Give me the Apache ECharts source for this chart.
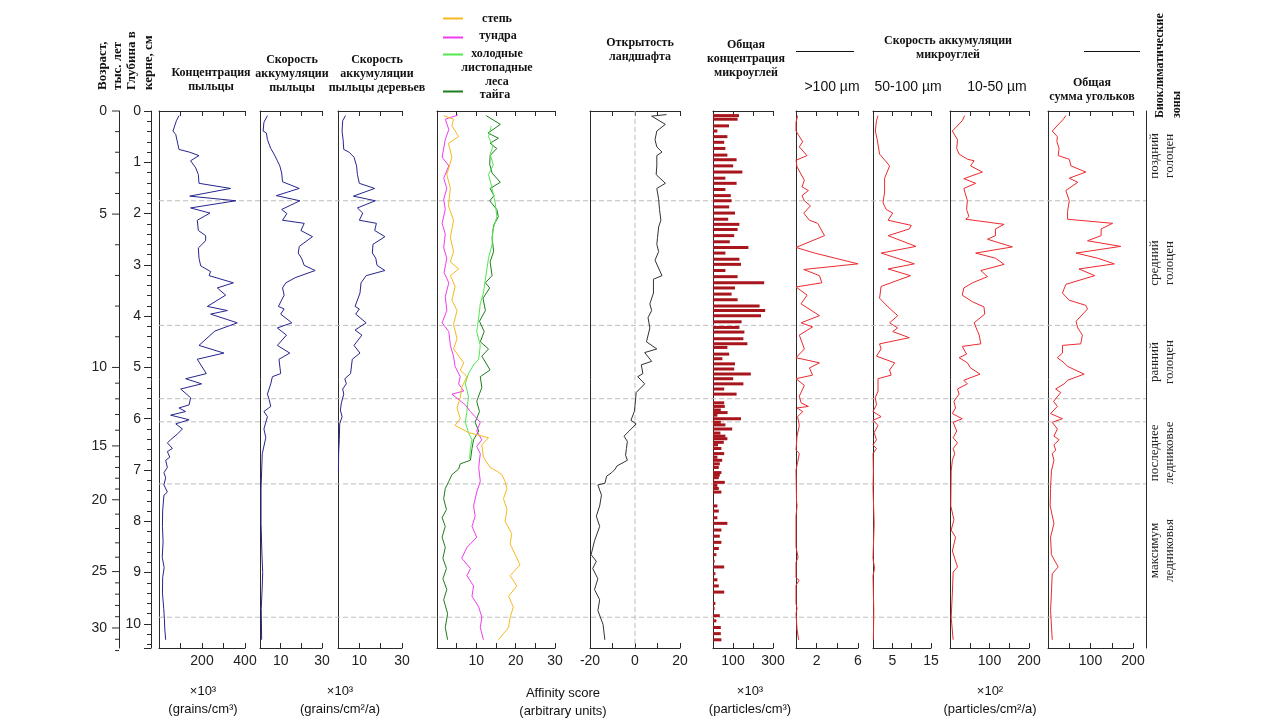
<!DOCTYPE html>
<html><head><meta charset="utf-8">
<script src="https://cdn.jsdelivr.net/npm/echarts@6/dist/echarts.min.js"></script>
<style>html,body{margin:0;padding:0;background:#fff}#c{width:1280px;height:720px}</style>
</head><body><div id="c"></div>
<script>
// ---------------- DATA (pairs: [depth, value]) ----------------
const pollenConc = [[0.09,93],[0.19,81],[0.39,65],[0.46,78],[0.75,93],[0.80,140],[0.87,186],[0.97,147],[1.11,171],[1.24,183],[1.41,186],[1.51,333],[1.66,143],[1.75,357],[1.89,147],[1.99,237],[2.13,178],[2.33,183],[2.43,217],[2.53,217],[2.67,183],[2.87,186],[3.02,194],[3.13,240],[3.21,233],[3.35,346],[3.45,271],[3.59,310],[3.81,225],[3.89,318],[3.96,240],[4.13,364],[4.29,260],[4.57,186],[4.72,302],[4.84,178],[5.12,220],[5.22,124],[5.32,198],[5.42,101],[5.59,147],[5.73,140],[5.79,93],[5.86,124],[5.93,54],[6.02,140],[6.10,78],[6.20,109],[6.30,85],[6.41,54],[6.47,39],[6.58,62],[6.64,39],[6.75,50],[6.81,31],[6.95,39],[7.05,23],[7.15,31],[7.29,23],[7.43,39],[7.49,23],[7.8,17],[8.1,16],[8.4,19],[8.7,15],[8.9,24],[9.1,17],[9.4,16],[9.7,22],[9.9,25],[10.1,27],[10.31,31]];
const pollenAcc = [[0.09,3.6],[0.22,1.9],[0.39,1.5],[0.43,3.1],[0.56,3.6],[0.73,5.2],[0.84,6.8],[0.97,8.4],[1.07,9.6],[1.21,10.5],[1.38,10.9],[1.51,19.0],[1.65,7.9],[1.75,19.3],[1.92,10.5],[2.00,13.0],[2.13,10.9],[2.19,21.4],[2.33,19.8],[2.45,25.4],[2.64,19.0],[2.77,18.5],[2.87,20.1],[3.01,21.4],[3.11,26.7],[3.25,17.0],[3.35,12.5],[3.45,10.9],[3.59,11.7],[3.81,8.9],[3.86,11.7],[3.96,10.0],[4.13,15.4],[4.23,8.4],[4.37,12.8],[4.57,8.4],[4.72,14.4],[4.84,9.2],[5.12,10.0],[5.18,6.0],[5.32,5.2],[5.42,4.4],[5.52,3.6],[5.62,4.4],[5.76,5.2],[5.86,1.9],[5.96,3.6],[6.07,2.8],[6.20,1.9],[6.37,2.8],[6.68,1.1],[7.02,0.8],[7.36,0.5],[8.04,0.5],[8.6,0.9],[9.0,1.3],[9.26,1.1],[9.7,0.6],[10.31,0.8]];
const treePollenAcc = [[0.09,3.5],[0.19,2.2],[0.39,1.9],[0.56,2.4],[0.75,2.7],[0.80,5.1],[0.90,7.5],[1.07,8.7],[1.24,9.1],[1.41,10.0],[1.51,17.2],[1.66,7.2],[1.75,17.5],[1.89,9.1],[1.99,11.6],[2.13,10.0],[2.19,18.0],[2.33,17.2],[2.45,22.0],[2.60,16.4],[2.77,16.1],[2.87,17.7],[3.01,18.3],[3.11,22.0],[3.21,13.2],[3.35,10.8],[3.55,10.3],[3.81,8.0],[3.86,10.0],[3.96,8.3],[4.13,13.2],[4.27,8.0],[4.37,11.2],[4.57,7.5],[4.72,10.3],[4.84,6.7],[5.12,5.9],[5.22,3.2],[5.32,3.9],[5.42,2.2],[5.52,2.7],[5.69,1.6],[5.83,1.1],[5.96,1.9],[6.10,0.8],[6.41,0.6],[6.68,0.3],[7.02,0.2]];
const steppe = [[0.09,1.7],[0.16,4.2],[0.29,3.8],[0.50,5.5],[0.63,2.9],[0.90,3.8],[1.24,2.5],[1.51,3.4],[1.85,2.9],[2.13,4.2],[2.47,3.4],[2.74,4.2],[2.94,3.4],[3.08,5.5],[3.21,3.4],[3.42,4.6],[3.69,3.8],[3.89,5.1],[4.16,4.2],[4.44,5.1],[4.64,4.2],[4.91,6.8],[5.05,5.9],[5.18,7.6],[5.39,6.3],[5.59,5.9],[5.79,5.1],[6.00,5.9],[6.13,4.6],[6.27,8.0],[6.37,13.1],[6.51,11.4],[6.75,11.8],[6.95,13.5],[7.02,15.2],[7.09,16.5],[7.22,17.3],[7.36,17.8],[7.56,16.9],[7.77,17.8],[8.00,17.3],[8.24,19.0],[8.44,18.6],[8.65,19.9],[8.85,21.1],[9.06,18.6],[9.26,20.3],[9.46,18.2],[9.67,19.4],[9.87,18.6],[10.07,18.2],[10.31,15.6]];
const tundra = [[0.08,5.3],[0.16,2.1],[0.36,3.0],[0.56,2.1],[0.90,1.3],[1.07,3.0],[1.31,1.7],[1.51,2.5],[1.72,1.7],[1.92,2.1],[2.19,1.3],[2.40,2.1],[2.67,1.7],[2.87,2.5],[3.15,1.8],[3.35,3.0],[3.62,2.1],[3.89,2.5],[4.13,1.3],[4.30,3.0],[4.57,3.4],[4.78,4.2],[4.98,4.6],[5.18,5.9],[5.32,5.5],[5.46,6.8],[5.52,3.8],[5.73,7.2],[5.86,8.5],[5.96,9.7],[6.07,11.0],[6.24,10.1],[6.41,11.4],[6.54,10.1],[6.68,11.0],[6.95,10.6],[7.22,11.0],[7.43,10.1],[7.70,9.3],[7.90,9.7],[8.10,8.9],[8.31,10.1],[8.51,7.6],[8.72,6.3],[8.92,8.5],[9.06,7.6],[9.26,9.3],[9.46,8.9],[9.67,10.6],[9.87,11.4],[10.07,11.0],[10.31,11.8]];
const coldDeciduous = [[0.30,13.8],[0.50,13.1],[0.70,14.2],[0.84,13.5],[1.05,14.3],[1.24,13.1],[1.51,14.0],[1.79,14.8],[2.06,15.2],[2.33,14.2],[2.60,14.0],[2.87,13.1],[3.28,12.3],[3.55,11.8],[3.76,11.0],[4.03,10.6],[4.30,10.1],[4.57,11.0],[4.84,10.6],[4.95,9.3],[5.12,8.0],[5.32,7.2],[5.56,8.0],[5.86,7.6],[6.07,7.2],[6.27,8.0],[6.41,8.9],[6.58,8.5],[6.78,8.3]];
const taiga = [[0.09,12.5],[0.26,16.1],[0.43,13.0],[0.53,15.6],[0.63,13.5],[0.73,15.2],[0.87,13.5],[1.04,13.4],[1.21,14.0],[1.39,16.1],[1.51,13.5],[1.65,14.5],[1.75,13.4],[1.92,15.2],[2.06,15.6],[2.23,14.4],[2.47,14.0],[2.74,14.4],[2.94,13.5],[3.21,14.0],[3.35,12.3],[3.45,13.4],[3.65,11.7],[3.89,12.3],[4.10,10.8],[4.30,12.0],[4.50,11.0],[4.64,13.1],[4.78,11.4],[5.05,13.5],[5.18,11.0],[5.39,11.4],[5.66,10.1],[5.86,10.8],[6.07,9.7],[6.24,10.6],[6.41,9.3],[6.58,8.9],[6.81,8.5],[6.88,5.9],[6.98,5.5],[7.09,3.8],[7.22,3.0],[7.36,2.1],[7.56,1.7],[7.77,2.4],[7.93,1.3],[8.10,2.1],[8.31,1.3],[8.51,2.1],[8.72,1.5],[8.92,2.4],[9.12,1.5],[9.33,2.5],[9.53,1.7],[9.80,2.7],[10.07,2.1],[10.31,2.7]];
const openness = [[0.07,14.0],[0.10,7.4],[0.26,13.5],[0.39,9.7],[0.56,8.9],[0.70,9.7],[0.80,12.0],[0.87,9.7],[1.07,9.7],[1.24,9.4],[1.41,13.5],[1.51,9.7],[1.72,10.5],[1.92,10.9],[2.13,11.5],[2.26,10.5],[2.47,10.0],[2.60,9.7],[2.74,10.5],[2.91,8.9],[3.21,12.0],[3.28,8.2],[3.55,8.2],[3.76,6.6],[3.89,7.4],[4.03,5.8],[4.23,6.6],[4.50,5.1],[4.64,9.7],[4.71,4.3],[4.88,7.4],[4.95,2.8],[5.12,3.5],[5.18,1.2],[5.32,4.3],[5.49,0.5],[5.66,0.2],[5.86,-0.3],[6.03,-1.8],[6.10,0.5],[6.24,-2.6],[6.34,-4.9],[6.44,-3.4],[6.58,-3.8],[6.71,-4.2],[6.81,-3.4],[6.92,-8.0],[6.98,-8.8],[7.05,-10.3],[7.12,-12.6],[7.26,-13.4],[7.29,-16.5],[7.49,-14.9],[7.70,-15.7],[7.90,-17.2],[8.10,-15.7],[8.38,-18.0],[8.65,-19.5],[8.78,-17.2],[8.92,-18.8],[9.12,-16.5],[9.33,-18.0],[9.53,-15.7],[9.74,-16.5],[10.01,-14.2],[10.31,-13.4]];
const charcoalConc = [[0.09,130],[0.16,123],[0.29,80],[0.39,22],[0.50,72],[0.61,56],[0.73,62],[0.86,72],[0.95,118],[1.07,101],[1.19,147],[1.31,62],[1.41,118],[1.53,62],[1.65,89],[1.75,93],[1.87,81],[1.99,110],[2.11,76],[2.21,132],[2.31,123],[2.43,106],[2.55,84],[2.66,177],[2.77,62],[2.89,132],[2.99,140],[3.11,62],[3.23,123],[3.35,256],[3.45,110],[3.57,93],[3.68,123],[3.80,233],[3.89,261],[3.99,240],[4.11,143],[4.22,132],[4.31,157],[4.44,152],[4.54,172],[4.61,72],[4.74,81],[4.83,47],[4.93,110],[5.03,106],[5.13,189],[5.22,101],[5.32,152],[5.42,56],[5.52,118],[5.69,56],[5.76,59],[5.83,39],[5.88,73],[5.93,22],[6.00,140],[6.07,39],[6.12,62],[6.20,96],[6.28,37],[6.34,62],[6.39,72],[6.46,54],[6.51,25],[6.58,42],[6.68,56],[6.75,22],[6.81,46],[6.88,34],[6.95,29],[7.05,42],[7.10,34],[7.15,29],[7.24,59],[7.30,22],[7.36,29],[7.43,42],[7.70,22],[7.80,29],[7.93,22],[8.04,72],[8.17,42],[8.29,34],[8.41,42],[8.53,29],[8.65,17],[8.78,8],[8.89,56],[9.02,12],[9.14,22],[9.26,29],[9.38,56],[9.60,12],[9.70,8],[9.84,34],[9.94,17],[10.07,39],[10.19,39],[10.31,42]];
const charcoal100 = [[0.09,0.16],[0.22,0],[0.39,0],[0.60,0.65],[0.70,0.32],[0.87,1.07],[0.96,0],[1.09,0.1],[1.35,0.81],[1.48,0.58],[1.55,1.2],[1.65,0.58],[1.75,0.81],[1.85,1.4],[1.99,0.75],[2.13,1.3],[2.19,2.1],[2.43,2.76],[2.66,0],[2.77,1.8],[2.98,6.0],[3.09,0.75],[3.21,2.27],[3.35,2.5],[3.43,0],[3.59,1.07],[3.76,0.49],[3.99,2.27],[4.13,0.49],[4.21,1.6],[4.37,0.32],[4.64,0.81],[4.81,0],[4.91,2.27],[5.01,1.3],[5.15,1.6],[5.22,0],[5.35,0.81],[5.56,0.32],[5.69,0.49],[5.76,1.2],[5.79,0.1],[5.86,0.65],[5.96,0.16],[6.13,0.32],[6.34,0.1],[6.61,0],[6.68,0.32],[6.85,0.16],[7.0,0],[7.6,0.05],[7.7,0.1],[7.9,0],[8.5,0],[8.7,0.2],[8.8,0],[9.1,0],[9.15,0.3],[9.25,0],[9.6,0],[9.7,0.1],[9.8,0],[10.1,0.1],[10.31,0.25]];
const charcoal50 = [[0.09,1.3],[0.19,0.9],[0.39,0.6],[0.56,1.1],[0.84,1.7],[1.07,4.3],[1.31,3.0],[1.58,3.0],[1.79,2.6],[1.92,3.4],[1.99,5.1],[2.13,3.9],[2.23,9.9],[2.30,9.4],[2.43,3.9],[2.64,11.1],[2.77,2.1],[2.98,10.7],[3.08,3.9],[3.21,9.7],[3.42,2.1],[3.65,1.7],[3.82,3.9],[3.99,6.4],[4.13,4.3],[4.23,6.4],[4.30,5.1],[4.42,9.4],[4.54,1.7],[4.64,2.1],[4.78,0.9],[4.91,5.6],[5.05,4.3],[5.15,4.7],[5.22,1.3],[5.46,1.3],[5.59,0.6],[5.73,0.9],[5.86,0],[5.96,2.1],[6.03,0],[6.13,1.3],[6.27,0.3],[6.41,0.9],[6.51,0],[6.58,0.9],[6.68,0],[7.02,0.1],[7.36,0],[8.04,0.3],[8.72,0],[8.92,0.4],[9.06,0],[9.74,0.2],[10.31,0.1]];
const charcoal10 = [[0.09,37],[0.19,31],[0.39,6],[0.56,19],[0.73,17],[0.84,23],[0.94,44],[0.97,61],[1.07,52],[1.19,82],[1.32,35],[1.41,65],[1.51,35],[1.75,44],[1.92,42],[2.06,48],[2.11,40],[2.21,137],[2.30,115],[2.43,115],[2.50,95],[2.65,158],[2.77,65],[2.87,115],[2.99,137],[3.11,78],[3.23,95],[3.35,57],[3.45,35],[3.59,31],[3.72,57],[3.82,86],[3.96,88],[4.13,61],[4.30,70],[4.37,74],[4.54,78],[4.59,31],[4.74,42],[4.81,23],[4.91,44],[5.01,52],[5.13,76],[5.25,35],[5.32,44],[5.42,19],[5.52,23],[5.66,10],[5.79,14],[5.90,6],[6.00,31],[6.07,8],[6.24,17],[6.37,8],[6.47,19],[6.58,8],[6.68,12],[6.81,6],[7.02,3],[7.70,2],[7.97,10],[8.17,3],[8.31,14],[8.58,6],[8.89,19],[8.99,8],[9.40,6],[9.87,3],[10.31,8]];
const charcoalTotal = [[0.09,42],[0.16,36],[0.39,10],[0.50,22],[0.60,21],[0.73,26],[0.87,24],[0.94,50],[1.07,54],[1.19,89],[1.31,50],[1.39,70],[1.55,42],[1.75,50],[1.96,46],[2.11,46],[2.19,152],[2.30,125],[2.43,125],[2.53,93],[2.64,171],[2.77,66],[2.87,117],[2.98,156],[3.08,73],[3.21,110],[3.38,42],[3.55,34],[3.69,50],[3.79,89],[3.86,93],[4.10,66],[4.23,70],[4.37,81],[4.54,77],[4.57,34],[4.72,34],[4.81,22],[4.91,38],[4.98,46],[5.13,85],[5.25,46],[5.32,38],[5.42,18],[5.49,30],[5.66,13],[5.76,22],[5.90,6],[6.00,34],[6.07,10],[6.20,22],[6.34,14],[6.41,26],[6.51,14],[6.61,18],[6.68,10],[6.81,14],[7.02,8],[7.36,6],[7.70,5],[8.04,14],[8.31,6],[8.65,8],[8.89,24],[9.02,10],[9.40,8],[9.74,6],[10.31,10]];

// zones & age scale
const zoneBounds = [1.75, 4.18, 5.61, 6.06, 7.27, 9.87];
const zoneNames = ['поздний\nголоцен', 'средний\nголоцен', 'ранний\nголоцен', '', 'последнее\nледниковье', 'максимум\nледниковья', ''];
const ageLabels = [0, 5, 10, 15, 20, 25, 30];
const ageLabelDepths = [0, 2.01, 5.0, 6.53, 7.58, 8.98, 10.08];

// tick labels shown on each panel's bottom axis
const ticksPollenConc = [200, 400];
const ticksPollenAcc = [10, 30];
const ticksTreeAcc = [10, 30];
const ticksAffinity = [10, 20, 30];
const ticksOpenness = [-20, 0, 20];
const ticksCharConc = [100, 300];
const ticks100 = [2, 6];
const ticks50 = [5, 15];
const ticks10 = [100, 200];
const ticksTotal = [100, 200];

// ---------------- LAYOUT ----------------
const SANS = '"Liberation Sans", Arial, sans-serif';
const SERIF = '"Liberation Serif", "Times New Roman", serif';
const TOP = 111, H = 537, DMAX = 10.47;
const AX = '#2a2a2a';

const panels = [
  {left:159, width:86, min:0, max:400, interval:100, labels:ticksPollenConc},
  {left:260, width:62, min:0, max:30, interval:10, labels:ticksPollenAcc},
  {left:338, width:64, min:0, max:30, interval:10, labels:ticksTreeAcc},
  {left:437, width:118, min:0, max:30, interval:5, labels:ticksAffinity},
  {left:590, width:90, min:-20, max:20, interval:10, labels:ticksOpenness},
  {left:713, width:60, min:0, max:300, interval:100, labels:ticksCharConc},
  {left:796, width:62, min:0, max:6, interval:2, labels:ticks100},
  {left:873, width:58, min:0, max:15, interval:5, labels:ticks50},
  {left:950, width:79, min:0, max:200, interval:50, labels:ticks10},
  {left:1048, width:85, min:0, max:200, interval:50, labels:ticksTotal}
];

const grid = [], xAxis = [], yAxis = [], series = [];
panels.forEach((p, i) => {
  grid.push({left:p.left, width:p.width, top:TOP, height:H});
  const base = {gridIndex:i, type:'value', min:p.min, max:p.max, interval:p.interval,
    axisLine:{show:true, onZero:false, lineStyle:{color:AX, width:1}},
    axisTick:{show:true, inside:true, length:5, lineStyle:{color:AX}},
    splitLine:{show:false}};
  xAxis.push(Object.assign({}, base, {position:'bottom',
    axisLabel:{show:true, margin:6, fontSize:14, fontFamily:SANS, color:'#222',
      formatter: v => p.labels.indexOf(v) >= 0 ? String(v) : ''}}));
  xAxis.push(Object.assign({}, base, {position:'top', axisLabel:{show:false}}));
  yAxis.push({gridIndex:i, type:'value', min:0, max:DMAX, inverse:true,
    axisLine:{show:true, onZero:false, lineStyle:{color:AX, width:1}},
    axisTick:{show:false}, axisLabel:{show:false}, splitLine:{show:false}});
});

function addGrid(left, width) {
  const gi = grid.length;
  grid.push({left, width, top:TOP, height:H});
  xAxis.push({gridIndex:gi, type:'value', min:0, max:1, show:false});
  return gi;
}
const gBg = addGrid(159, 987);
yAxis.push({gridIndex:gBg, type:'value', min:0, max:DMAX, inverse:true, show:false});
const xBg = xAxis.length - 1;

const gDepth = addGrid(151, 1);
yAxis.push({gridIndex:gDepth, type:'value', min:0, max:DMAX, inverse:true, interval:1,
  axisLine:{show:true, onZero:false, lineStyle:{color:AX}},
  axisTick:{show:true, inside:false, length:7, lineStyle:{color:AX}},
  minorTick:{show:true, splitNumber:5, length:4, lineStyle:{color:AX}},
  axisLabel:{margin:10, fontSize:14, fontFamily:SANS, color:'#222',
    formatter: v => (Math.abs(v - Math.round(v)) < 1e-6 && v <= 10) ? String(Math.round(v)) : ''},
  splitLine:{show:false}, minorSplitLine:{show:false}});

const gAge = addGrid(119, 1);
yAxis.push({gridIndex:gAge, type:'value', min:0, max:DMAX, inverse:true,
  axisLine:{show:true, onZero:false, lineStyle:{color:AX}},
  axisTick:{show:false}, axisLabel:{show:false}, splitLine:{show:false}});
const xAge = xAxis.length - 1;

const gZone = addGrid(1146, 30);
yAxis.push({gridIndex:gZone, type:'value', min:0, max:DMAX, inverse:true,
  axisLine:{show:true, onZero:false, lineStyle:{color:AX}},
  axisTick:{show:false}, axisLabel:{show:false}, splitLine:{show:false}});
const xZone = xAxis.length - 1;

series.push({type:'custom', xAxisIndex:xBg, yAxisIndex:gBg, silent:true, z:1,
  data: zoneBounds.map(d => [0, d]),
  renderItem: (params, api) => {
    const a = api.coord([0, api.value(1)]), b = api.coord([1, api.value(1)]);
    return {type:'line', shape:{x1:a[0], y1:a[1], x2:b[0], y2:b[1]},
      style:{stroke:'#bdbdbd', lineWidth:1, lineDash:[5, 3]}};
  }});

const ageTicks = [];
for (let i = 0; i < ageLabels.length; i++) {
  ageTicks.push([0, ageLabelDepths[i], ageLabels[i], 1]);
  if (i < ageLabels.length - 1) {
    for (let k = 1; k < 5; k++) ageTicks.push([0, ageLabelDepths[i] + (ageLabelDepths[i+1] - ageLabelDepths[i]) * k / 5, 0, 0]);
  }
}
const lastStep = (ageLabelDepths[6] - ageLabelDepths[5]) / 5;
ageTicks.push([0, ageLabelDepths[6] + lastStep, 0, 0]);
ageTicks.push([0, ageLabelDepths[6] + 2 * lastStep, 0, 0]);
series.push({type:'custom', xAxisIndex:xAge, yAxisIndex:gAge, silent:true, clip:false,
  data: ageTicks,
  renderItem: (params, api) => {
    const p = api.coord([0, api.value(1)]);
    const major = api.value(3) === 1;
    const ch = [{type:'line', shape:{x1:p[0] - (major ? 7 : 4), y1:p[1], x2:p[0], y2:p[1]}, style:{stroke:AX, lineWidth:1}}];
    if (major) ch.push({type:'text', x:p[0] - 12, y:p[1], style:{text:String(api.value(2)), align:'right', verticalAlign:'middle', font:'14px ' + SANS, fill:'#222'}});
    return {type:'group', children:ch};
  }});

const zEdges = [0].concat(zoneBounds, [DMAX]);
series.push({type:'custom', xAxisIndex:xZone, yAxisIndex:gZone, silent:true, clip:false,
  data: zoneNames.map((n, i) => [0, (zEdges[i] + zEdges[i+1]) / 2]),
  renderItem: (params, api) => {
    const p = api.coord([0, api.value(1)]);
    return {type:'text', x:p[0] + 16, y:p[1], rotation:Math.PI / 2,
      style:{text:zoneNames[params.dataIndex], align:'center', verticalAlign:'middle', font:'13px ' + SERIF, fill:'#222', lineHeight:15}};
  }});

series.push({type:'custom', xAxisIndex:8, yAxisIndex:4, silent:true, z:1,
  data:[[0, 0]],
  renderItem: (params, api) => {
    const a = api.coord([0, 0]), b = api.coord([0, DMAX]);
    return {type:'line', shape:{x1:a[0], y1:a[1], x2:b[0], y2:b[1]}, style:{stroke:'#bdbdbd', lineWidth:1, lineDash:[5, 3]}};
  }});

function line(pi, data, color, z) {
  series.push({type:'line', xAxisIndex:pi * 2, yAxisIndex:pi, data:data.map(d => [d[1], d[0]]),
    symbol:'none', silent:true, z:z || 3, lineStyle:{color, width:1}});
}
const NAVY = '#26268f', RED = '#ec2a2f';
line(0, pollenConc, NAVY);
line(1, pollenAcc, NAVY);
line(2, treePollenAcc, NAVY);
line(3, taiga, '#1e7d1e', 3);
line(3, coldDeciduous, '#4fe84f', 4);
line(3, tundra, '#f03cf0', 5);
line(3, steppe, '#f7b821', 6);
line(4, openness, '#333333');
line(6, charcoal100, RED);
line(7, charcoal50, RED);
line(8, charcoal10, RED);
line(9, charcoalTotal, RED);

series.push({type:'custom', xAxisIndex:10, yAxisIndex:5, silent:true, z:3,
  data: charcoalConc.map(d => [d[1], d[0]]),
  renderItem: (params, api) => {
    const v = api.value(0), d = api.value(1);
    const a = api.coord([0, d]), b = api.coord([v, d]);
    return {type:'rect', shape:{x:a[0], y:a[1] - 1.5, width:b[0] - a[0], height:3}, style:{fill:'#a8161d'}};
  }});

// ---------------- TEXT ----------------
const titleFont = 'bold 12px ' + SERIF;
function txt(text, x, y, opt) {
  return Object.assign({type:'text', x, y, silent:true,
    style:Object.assign({text, align:'center', verticalAlign:'middle', font:titleFont, fill:'#111', lineHeight:14}, (opt && opt.style) || {})},
    opt && opt.rotation ? {rotation:opt.rotation} : {});
}
function sans(text, x, y, size) {
  return {type:'text', x, y, silent:true, style:{text, align:'center', verticalAlign:'middle', font:(size || 13) + 'px ' + SANS, fill:'#111', lineHeight:18}};
}
function seg(x1, y1, x2, y2, color, w) {
  return {type:'line', silent:true, shape:{x1, y1, x2, y2}, style:{stroke:color, lineWidth:w || 1}};
}
const graphic = [
  txt('Возраст,\nтыс. лет', 110, 90, {rotation:Math.PI / 2, style:{align:'left', lineHeight:15, font:'bold 13px ' + SERIF}}),
  txt('Глубина в\nкерне, см', 140, 90, {rotation:Math.PI / 2, style:{align:'left', lineHeight:17, font:'bold 13px ' + SERIF}}),
  txt('Концентрация\nпыльцы', 211, 80),
  txt('Скорость\nаккумуляции\nпыльцы', 292, 73.5),
  txt('Скорость\nаккумуляции\nпыльцы деревьев', 377, 73.5),
  seg(443, 18.5, 463, 18.5, '#f7b821', 2), txt('степь', 497, 19),
  seg(443, 37.5, 463, 37.5, '#f03cf0', 2), txt('тундра', 498, 36),
  seg(443, 54.5, 463, 54.5, '#4fe84f', 2), txt('холодные\nлистопадные\nлеса', 497, 68),
  seg(443, 91.5, 463, 91.5, '#1e7d1e', 2), txt('тайга', 495, 95),
  txt('Открытость\nландшафта', 640, 49.5),
  txt('Общая\nконцентрация\nмикроуглей', 746, 59),
  txt('Скорость аккумуляции\nмикроуглей', 948, 47.5),
  seg(796, 51.5, 854, 51.5, '#111', 1), seg(1084, 51.5, 1140, 51.5, '#111', 1),
  sans('>100 µm', 832, 87, 14), sans('50-100 µm', 908, 87, 14), sans('10-50 µm', 997, 87, 14),
  txt('Общая\nсумма угольков', 1092, 90),
  txt('Биоклиматические\nзоны', 1168, 118, {rotation:Math.PI / 2, style:{align:'left', lineHeight:17}}),
  sans('×10³\n(grains/cm³)', 203, 700), sans('×10³\n(grains/cm²/a)', 340, 700),
  sans('Affinity score\n(arbitrary units)', 563, 702), sans('×10³\n(particles/cm³)', 750, 700),
  sans('×10²\n(particles/cm²/a)', 990, 700)
];

const chart = echarts.init(document.getElementById('c'), null, {renderer:'canvas'});
chart.setOption({animation:false, backgroundColor:'#fff', grid, xAxis, yAxis, series, graphic});
</script></body></html>
